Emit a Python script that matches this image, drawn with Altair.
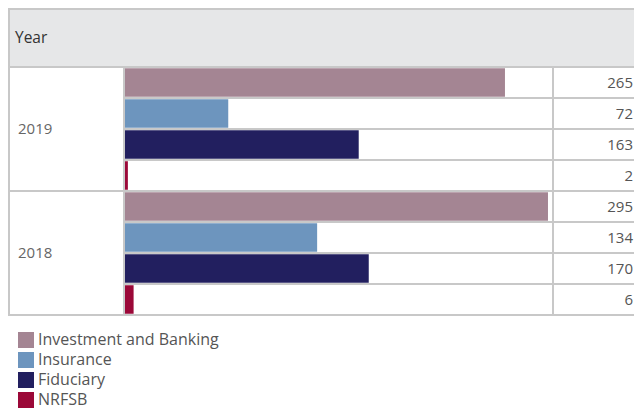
import altair as alt
import pandas as pd

years = ["2019", "2018"]
categories = ["Investment and Banking", "Insurance", "Fiduciary", "NRFSB"]
values_2019 = [265, 72, 163, 2]
values_2018 = [295, 134, 170, 6]
colors = ["#a48593", "#6d95be", "#221f5f", "#9b0838"]

FONT = "Open Sans"
GRID = "#c8c8c8"
W, H = 626, 404

rows = []
for yi, (yr, vals) in enumerate([(years[0], values_2019), (years[1], values_2018)]):
    for ci, (cat, v) in enumerate(zip(categories, vals)):
        r = yi * 4 + ci
        rows.append({"year": yr, "category": cat, "value": v, "zero": 0,
                     "y0": r + 0.04, "y1": r + 0.96, "mid": r + 0.5})
df = pd.DataFrame(rows)

year_df = pd.DataFrame({"year": years, "mid": [2, 6]})
inner_lines = pd.DataFrame({"pos": [1, 2, 3, 5, 6, 7]})
group_lines = pd.DataFrame({"pos": [0, 4, 8]})

xs = alt.Scale(domain=[0, 298.5], range=[117, 545])
ys = alt.Scale(domain=[0, 8], range=[59, 307])

one = alt.Data(values=[{"a": 1}])

header = alt.Chart(one).mark_rect(fill="#e6e7e8").encode(
    x=alt.value(0), x2=alt.value(W), y=alt.value(0), y2=alt.value(59))
header_top = alt.Chart(one).mark_rule(color=GRID, strokeWidth=2).encode(
    x=alt.value(0), x2=alt.value(W), y=alt.value(1))
header_text = alt.Chart(alt.Data(values=[{"t": "Year"}])).mark_text(
    align="left", baseline="middle", font=FONT, fontSize=15.5, color="#333333").encode(
    x=alt.value(7), y=alt.value(30), text="t:N")

bars = alt.Chart(df).mark_bar().encode(
    x=alt.X("zero:Q", scale=xs, axis=None),
    x2=alt.X2("value"),
    y=alt.Y("y0:Q", scale=ys, axis=None),
    y2=alt.Y2("y1"),
    color=alt.Color("category:N",
                    scale=alt.Scale(domain=categories, range=colors),
                    legend=alt.Legend(title=None, orient="none", legendX=10, legendY=324,
                                      symbolType="square", symbolSize=256,
                                      symbolStrokeWidth=0, symbolOpacity=1,
                                      labelFont=FONT, labelFontSize=16,
                                      labelColor="#555555", rowPadding=4,
                                      labelOffset=4, labelLimit=400)),
)

inner = alt.Chart(inner_lines).mark_rule(color=GRID, strokeWidth=2).encode(
    y=alt.Y("pos:Q", scale=ys, axis=None), x=alt.value(116), x2=alt.value(W))
groups = alt.Chart(group_lines).mark_rule(color=GRID, strokeWidth=2).encode(
    y=alt.Y("pos:Q", scale=ys, axis=None), x=alt.value(0), x2=alt.value(W))

def vline(px, top):
    return alt.Chart(one).mark_rule(color=GRID, strokeWidth=2).encode(
        x=alt.value(px), y=alt.value(top), y2=alt.value(308))

year_text = alt.Chart(year_df).mark_text(
    align="left", baseline="middle", font=FONT, fontSize=15, color="#666666").encode(
    x=alt.value(10), y=alt.Y("mid:Q", scale=ys, axis=None), text="year:N")

value_text = alt.Chart(df).mark_text(
    align="right", baseline="middle", font=FONT, fontSize=15, color="#555555").encode(
    x=alt.value(625), y=alt.Y("mid:Q", scale=ys, axis=None), text="value:Q")

chart = alt.layer(header, header_top, header_text, bars, inner, groups,
                  vline(1, 0), vline(116, 59), vline(545, 59),
                  year_text, value_text).properties(
    width=W, height=H, padding=0, autosize=alt.AutoSizeParams(type="none")
).configure_view(stroke=None)

chart.save("out.html", embed_options={"renderer": "svg", "actions": False})
